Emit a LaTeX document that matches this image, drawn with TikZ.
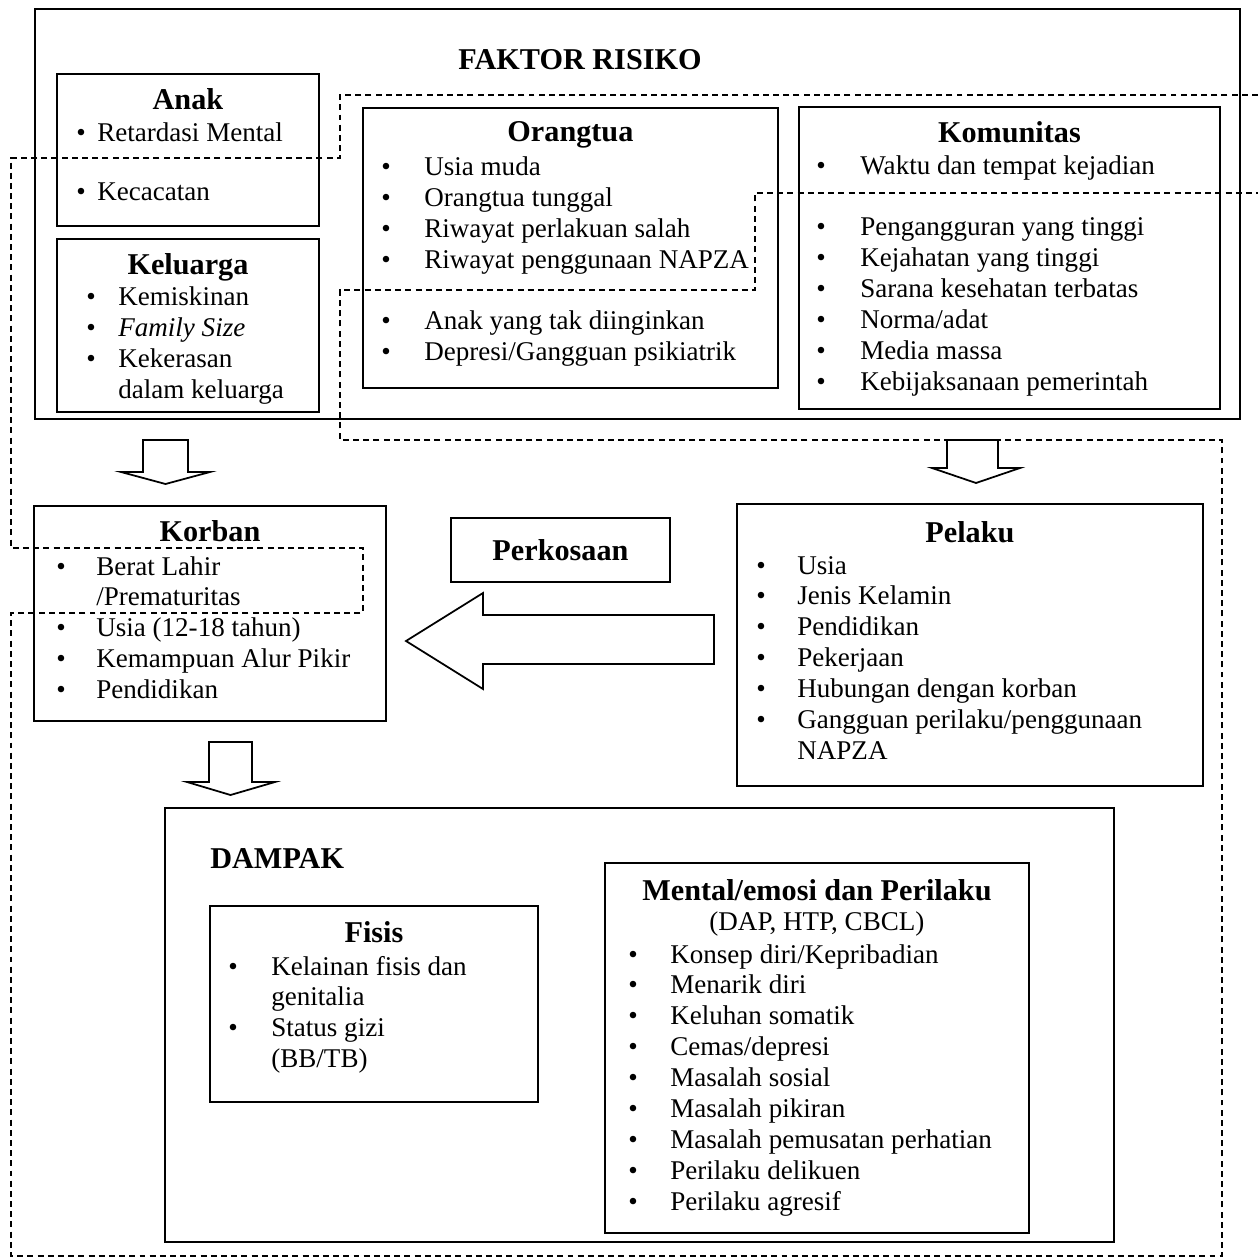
\documentclass[tikz,border=0pt]{standalone}
\usepackage{fontspec}
\setmainfont{Liberation Serif}
\usepackage{tikz}
\usetikzlibrary{positioning, calc}

\newlength{\bw}
\newcommand{\bl}{\makebox[\bw][l]{\textbullet}}
\newcommand{\ind}{\hspace*{\bw}}

\begin{document}
\begin{tikzpicture}[
	x=0.02cm, y=-0.02cm,
	% --- ESTILOS ---
	box/.style={
		rectangle, draw, line width=1.1pt, anchor=north west, inner sep=0pt
	},
	title/.style={
		font=\fontsize{17.2}{20}\selectfont\bfseries, inner sep=0pt
	},
	lst/.style={
		font=\fontsize{15.4}{17.6}\selectfont, align=left, inner sep=0pt, anchor=north west
	},
	bw/.code={\setlength{\bw}{#1}},
	dashline/.style={
		draw, line width=0.8pt, dash pattern=on 3.4pt off 2.4pt
	},
	blockarrow/.style={
		draw, fill=white, line width=1pt, line join=miter
	}
	]
	\useasboundingbox (0,0) rectangle (1258,1260);
	
	% ==========================================
	% 1. Faktor Risiko
	% ==========================================
	\node [box, minimum width=24.10cm, minimum height=8.20cm] (risiko) at (34,8) {};
	\node [title, anchor=base] (risiko_title) at (580,70) {FAKTOR RISIKO};
	
	% --- Anak ---
	\node [box, minimum width=5.24cm, minimum height=3.04cm] (anak) at (56,73) {};
	\node [title, anchor=base] (anak_title) at ($(anak.north)+(0,37)$) {Anak};
	\node [lst, bw=0.42cm] (anak_list) at (76,120) {\strut\bl Retardasi Mental\\[0.56cm] \bl Kecacatan};
	
	% --- Keluarga ---
	\node [box, below=0.22cm of anak, minimum width=5.24cm, minimum height=3.46cm] (keluarga) {};
	\node [title, anchor=base] (keluarga_title) at ($(keluarga.north)+(0,37)$) {Keluarga};
	\node [lst, bw=0.64cm] (keluarga_list) at (86,284) {\strut\bl Kemiskinan\\ \bl \textit{Family Size}\\ \bl Kekerasan\\ \ind dalam keluarga};
	
	% --- Orangtua ---
	\node [box, minimum width=8.30cm, minimum height=5.60cm] (orangtua) at (362,107) {};
	\node [title, anchor=base] (orangtua_title) at ($(orangtua.north)+(0,35)$) {Orangtua};
	\node [lst, bw=0.86cm] (orangtua_list) at (381,154) {\strut\bl Usia muda\\ \bl Orangtua tunggal\\ \bl Riwayat perlakuan salah\\ \bl Riwayat penggunaan NAPZA\\[0.6cm] \bl Anak yang tak diinginkan\\ \bl Depresi/Gangguan psikiatrik};
	
	% --- Komunitas ---
	\node [box, minimum width=8.42cm, minimum height=6.04cm] (komunitas) at (798,106) {};
	\node [title, anchor=base] (komunitas_title) at ($(komunitas.north)+(0,37)$) {Komunitas};
	\node [lst, bw=0.88cm] (komunitas_list) at (816,153) {\strut\bl Waktu dan tempat kejadian\\[0.6cm] \bl Pengangguran yang tinggi\\ \bl Kejahatan yang tinggi\\ \bl Sarana kesehatan terbatas\\ \bl Norma/adat\\ \bl Media massa\\ \bl Kebijaksanaan pemerintah};
	
	% ==========================================
	% 2. Korban, Perkosaan y Pelaku
	% ==========================================
	\node [box, minimum width=7.04cm, minimum height=4.30cm] (korban) at (33,505) {};
	\node [title, anchor=base] (korban_title) at ($(korban.north)+(0,36)$) {Korban};
	\node [lst, bw=0.80cm] (korban_list) at (56,553) {\strut\bl Berat Lahir\\ \ind /Prematuritas\\ \bl Usia (12-18 tahun)\\ \bl Kemampuan Alur Pikir\\ \bl Pendidikan};
	
	\node [box, title, minimum width=4.38cm, minimum height=1.28cm] (perkosaan) at (450,517) {Perkosaan};
	
	\node [box, minimum width=9.32cm, minimum height=5.64cm] (pelaku) at (736,503) {};
	\node [title, anchor=base] (pelaku_title) at ($(pelaku.north)+(0,39)$) {Pelaku};
	\node [lst, bw=0.82cm] (pelaku_list) at (756,552) {\strut\bl Usia\\ \bl Jenis Kelamin\\ \bl Pendidikan\\ \bl Pekerjaan\\ \bl Hubungan dengan korban\\ \bl Gangguan perilaku/penggunaan\\ \ind NAPZA};
	
	% ==========================================
	% 3. Dampak
	% ==========================================
	\node [box, minimum width=18.98cm, minimum height=8.68cm] (dampak) at (164,807) {};
	\node [title, anchor=base west] (dampak_title) at ($(dampak.north west)+(46,61)$) {DAMPAK};
	
	\node [box, minimum width=6.56cm, minimum height=3.92cm] (fisis) at (209,905) {};
	\node [title, anchor=base] (fisis_title) at ($(fisis.north)+(0,37)$) {Fisis};
	\node [lst, bw=0.86cm] (fisis_list) at (228,953) {\strut\bl Kelainan fisis dan\\ \ind genitalia\\ \bl Status gizi\\ \ind (BB/TB)};
	
	\node [box, minimum width=8.48cm, minimum height=7.40cm] (mental) at (604,862) {};
	\node [title, anchor=base] (mental_title) at ($(mental.north)+(0,38)$) {Mental/emosi dan Perilaku};
	\node [font=\fontsize{15.4}{17.6}\selectfont, inner sep=0pt, anchor=base] (mental_sub) at ($(mental.north)+(0,68)$) {(DAP, HTP, CBCL)};
	\node [lst, bw=0.84cm] (mental_list) at (628,941) {\strut\bl Konsep diri/Kepribadian\\ \bl Menarik diri\\ \bl Keluhan somatik\\ \bl Cemas/depresi\\ \bl Masalah sosial\\ \bl Masalah pikiran\\ \bl Masalah pemusatan perhatian\\ \bl Perilaku delikuen\\ \bl Perilaku agresif};
	
	% ==========================================
	% 4. Linea punteada
	% ==========================================
	\draw [dashline] (1258,95) -- (340,95) -- (340,158) -- (11,158) -- (11,548) -- (363,548) -- (363,613) -- (11,613) -- (11,1256) -- (1222,1256) -- (1222,440) -- (340,440) -- (340,290) -- (755,290) -- (755,193) -- (1258,193);
	
	% ==========================================
	% 5. Flechas de bloque
	% ==========================================
	% keluarga -> korban
	\draw [blockarrow] (143,440) -- (188,440) -- (188,472) -- (210,472) -- (165.5,484) -- (121,472) -- (143,472) -- cycle;
	% komunitas -> pelaku
	\draw [blockarrow] (947,440) -- (998,440) -- (998,468) -- (1020,468) -- (976,483) -- (932,468) -- (947,468) -- cycle;
	% korban -> dampak
	\draw [blockarrow] (209,742) -- (252,742) -- (252,782) -- (275,782) -- (230.5,795) -- (187,782) -- (209,782) -- cycle;
	% pelaku -> korban
	\draw [blockarrow] (714,615) -- (714,664) -- (483,664) -- (483,689) -- (406,641) -- (483,593) -- (483,615) -- cycle;
\end{tikzpicture}
\end{document}
